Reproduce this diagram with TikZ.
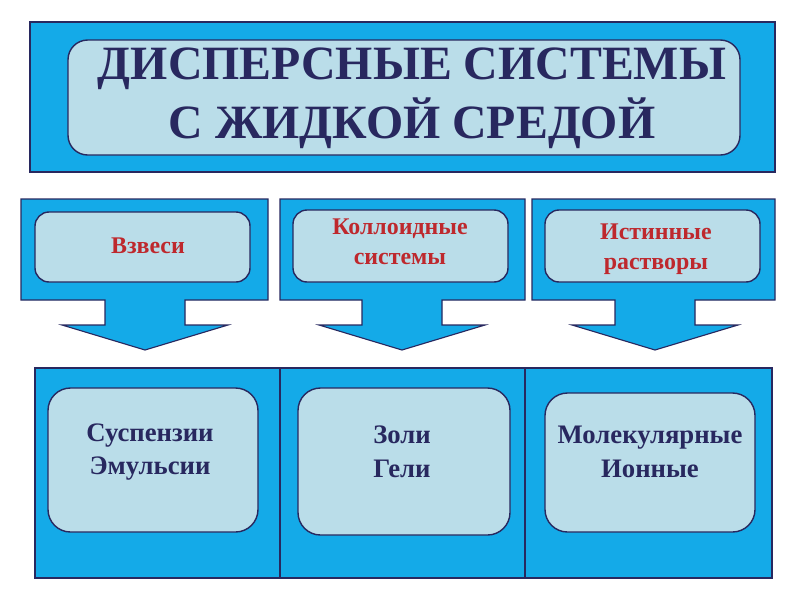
\documentclass[tikz,border=0pt]{standalone}
\usepackage{fontspec}
\setmainfont{Liberation Serif}
\usetikzlibrary{calc}
\definecolor{skyblue}{RGB}{20,170,232}
\definecolor{paleblue}{RGB}{186,221,233}
\definecolor{navy}{RGB}{40,40,95}
\definecolor{redtext}{RGB}{190,40,45}

\begin{document}
\begin{tikzpicture}[
        x={(0.025cm,0)},
        y={(0,-0.025cm)},
        frame/.style={draw=navy, fill=skyblue, line width=.8pt},
        inbox/.style={draw=navy, fill=paleblue, line width=1pt, rounded corners=10pt},
        kind/.style={text=redtext, font=\bfseries\fontsize{17}{21}\selectfont, align=center},
        sort/.style={text=navy, font=\bfseries\fontsize{19}{24}\selectfont, align=center},
    ]
    \useasboundingbox (0,0) rectangle (800,600);

    % Title block.
    \draw[frame] (30,22) rectangle (775,172);
    \draw[inbox, rounded corners=14pt] (68,40) rectangle (740,155);
    \node[text=navy, font=\bfseries\fontsize{34}{42}\selectfont, align=center] (title)
        at (412,98) {ДИСПЕРСНЫЕ СИСТЕМЫ\\С ЖИДКОЙ СРЕДОЙ};

    % Arrow blocks: left, right, tip.
    \foreach \l/\r/\t in {21/268/145, 280/525/402, 532/775/655}
    {
        \draw[frame] (\l,199) -- (\r,199) -- (\r,300) -- (\t+40,300) -- (\t+40,325)
            -- (\t+83,325) -- (\t,350) -- (\t-83,325) -- (\t-40,325) -- (\t-40,300)
            -- (\l,300) -- cycle;
    }

    % Kinds.
    \draw[inbox] (35,212) rectangle (250,282);
    \draw[inbox] (293,210) rectangle (508,282);
    \draw[inbox] (545,210) rectangle (760,282);
    \node[kind] (vzvesi) at (148,246) {Взвеси};
    \node[kind] (kolloid) at (400,242) {Коллоидные\\системы};
    \node[kind] (istin) at (656,249) {Истинные\\растворы};

    % Examples.
    \foreach \l/\r in {35/280, 280/525, 525/772}
        \draw[frame] (\l,368) rectangle (\r,578);
    \draw[inbox, rounded corners=16pt] (48,388) rectangle (258,532);
    \draw[inbox, rounded corners=16pt] (298,388) rectangle (510,535);
    \draw[inbox, rounded corners=16pt] (545,393) rectangle (755,532);
    \node[sort] (susp) at (150,452) {Суспензии\\Эмульсии};
    \node[sort] (zoli) at (402,452) {Золи\\Гели};
    \node[sort] (molek) at (650,452) {Молекулярные\\Ионные};
\end{tikzpicture}
\end{document}
